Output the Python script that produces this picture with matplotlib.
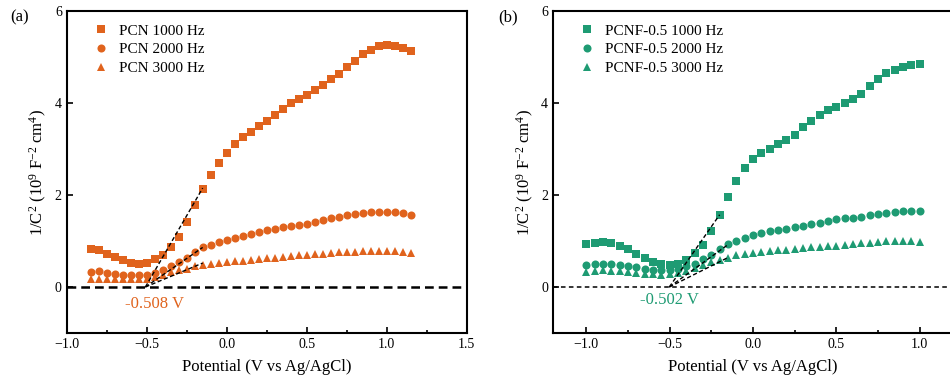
import matplotlib
matplotlib.use("Agg")
import matplotlib.pyplot as plt
from matplotlib.ticker import MultipleLocator

plt.rcParams['font.family'] = ['Liberation Serif', 'DejaVu Serif']
plt.rcParams['mathtext.fontset'] = 'custom'
plt.rcParams['mathtext.rm'] = 'Liberation Serif'
plt.rcParams['mathtext.it'] = 'Liberation Serif:italic'

# ---------------- data: panel (a) PCN ----------------
x_pcn = [-0.85, -0.80, -0.75, -0.70, -0.65, -0.60, -0.55, -0.50, -0.45, -0.40,
         -0.35, -0.30, -0.25, -0.20, -0.15, -0.10, -0.05, 0.00, 0.05, 0.10,
         0.15, 0.20, 0.25, 0.30, 0.35, 0.40, 0.45, 0.50, 0.55, 0.60,
         0.65, 0.70, 0.75, 0.80, 0.85, 0.90, 0.95, 1.00, 1.05, 1.10, 1.15]
pcn_1000 = [0.83, 0.80, 0.72, 0.66, 0.59, 0.53, 0.51, 0.53, 0.60, 0.69,
            0.86, 1.09, 1.42, 1.78, 2.13, 2.44, 2.70, 2.92, 3.10, 3.25,
            3.36, 3.49, 3.60, 3.73, 3.88, 4.01, 4.08, 4.18, 4.28, 4.40,
            4.52, 4.64, 4.78, 4.92, 5.07, 5.16, 5.23, 5.27, 5.25, 5.20, 5.14]
pcn_2000 = [0.32, 0.35, 0.30, 0.29, 0.27, 0.26, 0.26, 0.27, 0.30, 0.36,
            0.45, 0.54, 0.64, 0.76, 0.86, 0.91, 0.98, 1.03, 1.07, 1.11,
            1.16, 1.20, 1.24, 1.27, 1.30, 1.32, 1.35, 1.38, 1.41, 1.45,
            1.49, 1.53, 1.56, 1.58, 1.61, 1.64, 1.64, 1.64, 1.64, 1.61, 1.57]
pcn_3000 = [0.17, 0.18, 0.18, 0.17, 0.17, 0.17, 0.17, 0.18, 0.22, 0.26,
            0.32, 0.36, 0.40, 0.45, 0.48, 0.51, 0.53, 0.54, 0.56, 0.57,
            0.59, 0.61, 0.63, 0.64, 0.66, 0.67, 0.69, 0.69, 0.71, 0.72,
            0.74, 0.75, 0.75, 0.77, 0.78, 0.79, 0.79, 0.79, 0.78, 0.76, 0.74]
pcn_fb = -0.508                      # flat-band intercept (V)
pcn_fit_end_x = [-0.15, -0.15, -0.15]
pcn_fit_end_y = [2.15, 0.86, 0.52]

# ---------------- data: panel (b) PCNF-0.5 ----------------
x_pcnf = [-1.00, -0.95, -0.90, -0.85, -0.80, -0.75, -0.70, -0.65, -0.60, -0.55,
          -0.50, -0.45, -0.40, -0.35, -0.30, -0.25, -0.20, -0.15, -0.10, -0.05,
          0.00, 0.05, 0.10, 0.15, 0.20, 0.25, 0.30, 0.35, 0.40, 0.45,
          0.50, 0.55, 0.60, 0.65, 0.70, 0.75, 0.80, 0.85, 0.90, 0.95, 1.00]
pcnf_1000 = [0.94, 0.96, 0.98, 0.96, 0.90, 0.82, 0.72, 0.62, 0.54, 0.49,
             0.48, 0.51, 0.59, 0.74, 0.91, 1.21, 1.56, 1.95, 2.31, 2.58,
             2.78, 2.91, 3.01, 3.10, 3.20, 3.31, 3.47, 3.61, 3.73, 3.84,
             3.92, 4.01, 4.09, 4.20, 4.36, 4.53, 4.65, 4.72, 4.79, 4.83, 4.84]
pcnf_2000 = [0.47, 0.51, 0.51, 0.51, 0.48, 0.46, 0.43, 0.40, 0.38, 0.36,
             0.36, 0.39, 0.45, 0.51, 0.60, 0.70, 0.82, 0.93, 1.01, 1.07,
             1.13, 1.18, 1.22, 1.24, 1.27, 1.30, 1.33, 1.36, 1.40, 1.44,
             1.47, 1.49, 1.51, 1.53, 1.56, 1.59, 1.61, 1.63, 1.65, 1.66, 1.65]
pcnf_3000 = [0.32, 0.35, 0.36, 0.35, 0.34, 0.33, 0.31, 0.29, 0.28, 0.27,
             0.28, 0.30, 0.35, 0.41, 0.47, 0.54, 0.59, 0.64, 0.69, 0.72,
             0.74, 0.76, 0.78, 0.80, 0.81, 0.83, 0.85, 0.86, 0.88, 0.89,
             0.90, 0.92, 0.93, 0.95, 0.96, 0.98, 0.99, 1.00, 1.00, 0.99, 0.98]
pcnf_fb = -0.502
pcnf_fit_end_x = [-0.20, -0.15, -0.15]
pcnf_fit_end_y = [1.57, 0.92, 0.64]

ORANGE = '#E0631D'
GREEN = '#1E9B73'

fig = plt.figure(figsize=(9.5, 3.89), dpi=100)
ax1 = fig.add_axes([0.0702, 0.144, 0.421, 0.8277])
ax2 = fig.add_axes([0.5821, 0.144, 0.421, 0.8277])


def style(ax, xlim, xticks):
    ax.set_xlim(*xlim)
    ax.set_ylim(-1, 6)
    ax.set_xticks(xticks)
    ax.xaxis.set_minor_locator(MultipleLocator(0.25))
    ax.set_yticks([0, 2, 4, 6])
    ax.tick_params(which='both', direction='in', top=False, right=False,
                   labelsize=10, width=1.2)
    ax.tick_params(which='major', length=4)
    ax.tick_params(which='minor', length=2.5)
    for s in ax.spines.values():
        s.set_linewidth(1.5)
    ax.set_xlabel('Potential (V vs Ag/AgCl)', fontsize=12, labelpad=6)
    ax.set_ylabel(r'1/$\mathregular{C^2}$ ($\mathregular{10^9}$ $\mathregular{F^{-2}}$ $\mathregular{cm^4}$)',
                  fontsize=12, labelpad=4)


def panel(ax, x, ys, labels, color, fb, fx, fy, zl_lw, zl_dash, ann, ann_xy):
    markers = ['s', 'o', '^']
    sizes = [5.3, 5.8, 6.0]
    for y, lab, m, ms in zip(ys, labels, markers, sizes):
        ax.plot(x, y, ls='none', marker=m, ms=ms, color=color, label=lab,
                markeredgewidth=0)
    ax.axhline(0, color='k', lw=zl_lw, dashes=zl_dash, zorder=1)
    for ex, ey in zip(fx, fy):
        ax.plot([fb, ex], [0, ey], color='k', lw=1.0, dashes=(3, 1.8), zorder=3)
    ax.text(ann_xy[0], ann_xy[1], ann, color=color, fontsize=12,
            ha='center', va='center')
    ax.legend(loc='upper left', frameon=False, fontsize=11, handletextpad=0.6,
              borderaxespad=0.45, bbox_to_anchor=(0.03, 1.0), labelspacing=0.33,
              handlelength=1.2)


style(ax1, (-1.0, 1.5), [-1.0, -0.5, 0.0, 0.5, 1.0, 1.5])
panel(ax1, x_pcn, [pcn_1000, pcn_2000, pcn_3000],
      ['PCN 1000 Hz', 'PCN 2000 Hz', 'PCN 3000 Hz'], ORANGE,
      pcn_fb, pcn_fit_end_x, pcn_fit_end_y, 1.8, (3.5, 2.0),
      '-0.508 V', (-0.45, -0.36))

style(ax2, (-1.2, 1.2), [-1.0, -0.5, 0.0, 0.5, 1.0])
panel(ax2, x_pcnf, [pcnf_1000, pcnf_2000, pcnf_3000],
      ['PCNF-0.5 1000 Hz', 'PCNF-0.5 2000 Hz', 'PCNF-0.5 3000 Hz'], GREEN,
      pcnf_fb, pcnf_fit_end_x, pcnf_fit_end_y, 1.1, (3.0, 2.2),
      '-0.502 V', (-0.50, -0.29))

fig.text(10 / 950, 1 - 17 / 389, '(a)', fontsize=12, va='center', ha='left')
fig.text(498 / 950, 1 - 17 / 389, '(b)', fontsize=12, va='center', ha='left')

fig.savefig('out.png', dpi=100)
